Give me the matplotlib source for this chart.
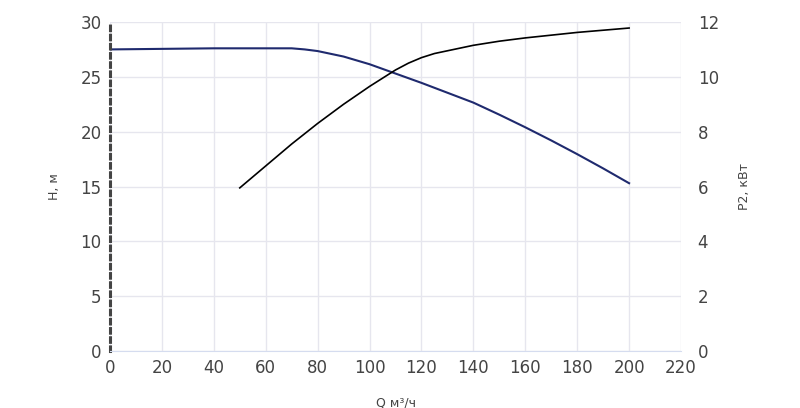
import matplotlib
matplotlib.use("Agg")
import matplotlib.pyplot as plt
from matplotlib.ticker import MultipleLocator

q_h = [0, 20, 40, 60, 70, 75, 80, 85, 90, 100, 110, 120, 130, 140, 150, 160, 170, 180, 190, 200]
h = [27.5, 27.55, 27.6, 27.6, 27.6, 27.5, 27.35, 27.1, 26.85, 26.15, 25.3, 24.45, 23.55, 22.65, 21.55, 20.4, 19.2, 17.95, 16.65, 15.3]
q_p = [50, 60, 70, 80, 90, 100, 110, 115, 120, 125, 130, 140, 150, 160, 180, 200]
p = [5.95, 6.75, 7.55, 8.3, 9.0, 9.65, 10.25, 10.5, 10.7, 10.85, 10.95, 11.15, 11.3, 11.42, 11.62, 11.78]

fig = plt.figure(figsize=(8, 4.08), dpi=100)
ax = fig.add_axes([110/800, 1-351/408, 571/800, 329/408])
ax.plot(q_h, h, color="#1f2a6e", lw=1.5)
ax.set_xlim(0, 220); ax.set_ylim(0, 30)
ax.xaxis.set_major_locator(MultipleLocator(20))
ax.yaxis.set_major_locator(MultipleLocator(5))
ax.grid(True, color="#e6e6ee", lw=1)
for s in ["top", "right"]:
    ax.spines[s].set_visible(False)
ax.spines["bottom"].set_color("#d5dcef")
ax.spines["left"].set_color("#444444")
ax.spines["left"].set_linestyle((0, (1.5, 1.5)))
ax.spines["left"].set_linewidth(2.2)
ax.tick_params(length=0, labelsize=12, colors="#444444", pad=6)
ax.set_xlabel("Q м³/ч", fontsize=9, color="#444444", labelpad=14)
ax.set_ylabel("H, м", fontsize=9, color="#444444", labelpad=14)
ax2 = ax.twinx()
ax2.plot(q_p, p, color="black", lw=1.2)
ax2.set_ylim(0, 12)
ax2.yaxis.set_major_locator(MultipleLocator(2))
for s in ax2.spines.values():
    s.set_visible(False)
ax2.tick_params(length=0, labelsize=12, colors="#444444", pad=12)
ax2.set_ylabel("P2, кВт", fontsize=9, color="#444444", labelpad=14)
fig.savefig("out.png")
